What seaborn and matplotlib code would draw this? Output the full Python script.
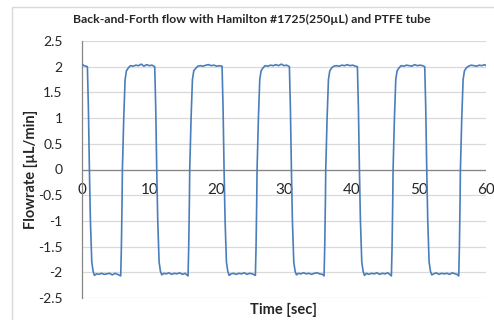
import matplotlib
matplotlib.use("Agg")
import matplotlib.pyplot as plt
import seaborn as sns
import pandas as pd
from matplotlib.patches import Rectangle

# Flowrate readings, one row per cycle (sec, uL/min)
time_s = [
    0.0, 0.3, 0.6, 0.8, 0.95, 1.1, 1.25, 1.45, 1.65, 1.85, 2.15, 2.5, 2.9, 3.3, 3.7, 4.1, 4.5, 4.9, 5.3, 5.75,
    5.85, 5.95, 6.0, 6.2, 6.4, 6.6, 6.9, 7.2, 7.6, 8.0, 8.4, 8.8, 9.2, 9.6, 10.0, 10.4,
    10.8, 10.95, 11.1, 11.25, 11.45, 11.65, 11.85, 12.15, 12.5, 12.9, 13.3, 13.7, 14.1, 14.5, 14.9, 15.3, 15.75,
    15.85, 15.95, 16.0, 16.2, 16.4, 16.6, 16.9, 17.2, 17.6, 18.0, 18.4, 18.8, 19.2, 19.6, 20.0, 20.4,
    20.8, 20.95, 21.1, 21.25, 21.45, 21.65, 21.85, 22.15, 22.5, 22.9, 23.3, 23.7, 24.1, 24.5, 24.9, 25.3, 25.75,
    25.85, 25.95, 26.0, 26.2, 26.4, 26.6, 26.9, 27.2, 27.6, 28.0, 28.4, 28.8, 29.2, 29.6, 30.0, 30.4,
    30.8, 30.95, 31.1, 31.25, 31.45, 31.65, 31.85, 32.15, 32.5, 32.9, 33.3, 33.7, 34.1, 34.5, 34.9, 35.3, 35.7,
    35.95, 36.05, 36.15, 36.2, 36.4, 36.6, 36.8, 37.1, 37.4, 37.8, 38.2, 38.6, 39.0, 39.4, 39.8, 40.2, 40.6,
    40.9, 41.05, 41.2, 41.35, 41.55, 41.75, 41.95, 42.25, 42.6, 43.0, 43.4, 43.8, 44.2, 44.6, 45.0, 45.4, 45.7,
    45.95, 46.05, 46.15, 46.2, 46.4, 46.6, 46.8, 47.1, 47.4, 47.8, 48.2, 48.6, 49.0, 49.4, 49.8, 50.2, 50.6,
    50.9, 51.05, 51.2, 51.35, 51.55, 51.75, 51.95, 52.25, 52.6, 53.0, 53.4, 53.8, 54.2, 54.6, 55.0, 55.4, 55.7,
    55.95, 56.05, 56.15, 56.2, 56.4, 56.6, 56.8, 57.1, 57.4, 57.8, 58.2, 58.6, 59.0, 59.4, 59.8, 60.0,
]
flow = [
    2.05, 2.02, 2.01, 2.00, 1.20, 0.00, -1.00, -1.80, -1.98, -2.06, -2.03, -2.04, -2.02, -2.04, -2.03, -2.02, -2.05, -2.02, -2.04, -2.07,
    -1.50, -0.60, 0.00, 1.00, 1.75, 1.92, 1.98, 2.02, 2.01, 2.03, 2.02, 2.05, 2.01, 2.04, 2.02, 2.03,
    2.00, 1.20, 0.00, -1.00, -1.80, -1.98, -2.05, -2.02, -2.03, -2.01, -2.04, -2.02, -2.03, -2.01, -2.04, -2.02, -2.07,
    -1.50, -0.60, 0.00, 1.00, 1.75, 1.92, 1.97, 2.01, 2.02, 2.01, 2.03, 2.04, 2.02, 2.03, 2.01, 2.02,
    2.01, 1.20, 0.00, -1.00, -1.80, -1.98, -2.06, -2.03, -2.02, -2.04, -2.02, -2.03, -2.01, -2.04, -2.02, -2.03, -2.06,
    -1.50, -0.60, 0.00, 1.00, 1.75, 1.92, 1.98, 2.02, 2.01, 2.03, 2.02, 2.04, 2.02, 2.05, 2.02, 2.03,
    2.00, 1.20, 0.00, -1.00, -1.80, -1.98, -2.05, -2.02, -2.03, -2.01, -2.03, -2.02, -2.04, -2.02, -2.01, -2.03, -2.04,
    -2.07, -1.50, -0.60, 0.00, 1.00, 1.75, 1.92, 1.98, 2.01, 2.02, 2.01, 2.03, 2.02, 2.04, 2.02, 2.03, 2.01,
    2.00, 1.20, 0.00, -1.00, -1.80, -1.98, -2.06, -2.02, -2.04, -2.02, -2.03, -2.01, -2.04, -2.02, -2.03, -2.01, -2.04,
    -2.07, -1.50, -0.60, 0.00, 1.00, 1.75, 1.92, 1.98, 2.02, 2.01, 2.03, 2.02, 2.01, 2.04, 2.02, 2.03, 2.02,
    2.00, 1.20, 0.00, -1.00, -1.80, -1.98, -2.05, -2.03, -2.01, -2.04, -2.02, -2.03, -2.02, -2.04, -2.01, -2.03, -2.04,
    -2.07, -1.50, -0.60, 0.00, 1.00, 1.75, 1.92, 1.98, 2.01, 2.03, 2.02, 2.01, 2.03, 2.02, 2.04, 2.02,
]
x_ticks = [0, 10, 20, 30, 40, 50, 60]
y_ticks = [-2.5, -2, -1.5, -1, -0.5, 0, 0.5, 1, 1.5, 2, 2.5]

df = pd.DataFrame({"time": time_s, "flow": flow})

sns.set_theme(style="white")
plt.rcParams["font.family"] = ["Lato", "DejaVu Sans"]

fig = plt.figure(figsize=(4.94, 3.2), dpi=100)
ax = fig.add_axes([82 / 494, 1 - 298 / 320, 404 / 494, 257 / 320])

# chart area border (Excel style)
fig.patches.append(Rectangle((12 / 494, -0.1), 1.2, 1 - 7 / 320 + 0.1,
                             transform=fig.transFigure, fill=False,
                             edgecolor="#d9d9d9", linewidth=1))

for yv in y_ticks:
    ax.axhline(yv, color="#d9d9d9", linewidth=0.9, zorder=0)
ax.axhline(0, color="#868686", linewidth=0.9, zorder=1)

sns.lineplot(data=df, x="time", y="flow", sort=False, estimator=None,
             color="#4a7ebb", linewidth=1.2, ax=ax, zorder=3)

ax.set_xlim(0, 60)
ax.set_ylim(-2.5, 2.5)
ax.set_yticks(y_ticks)
ax.set_yticklabels([f"{v:g}" for v in y_ticks], fontsize=10)
ax.set_xticks(x_ticks)
ax.set_xticklabels([str(v) for v in x_ticks], fontsize=10)
ax.tick_params(axis="y", length=0, pad=14)
ax.tick_params(axis="x", length=0, pad=9.5)
ax.spines["bottom"].set_position(("data", 0))
ax.spines["bottom"].set_visible(False)
ax.spines["top"].set_visible(False)
ax.spines["right"].set_visible(False)
ax.spines["left"].set_color("#868686")
ax.spines["left"].set_linewidth(0.9)

ax.set_xlabel("")
fig.text(284 / 494, 1 - 310 / 320, "Time [sec]", ha="center", va="center",
         fontsize=10.5, fontweight="bold")
ax.set_ylabel("Flowrate [µL/min]", fontsize=10.5, fontweight="bold")
ax.yaxis.set_label_coords(-0.109, 0.5)
fig.text(252 / 494, 1 - 19 / 320, "Back-and-Forth flow with Hamilton #1725(250µL) and PTFE tube",
         ha="center", va="center", fontsize=8.8, fontweight="bold")

fig.savefig("out.png", dpi=100)
